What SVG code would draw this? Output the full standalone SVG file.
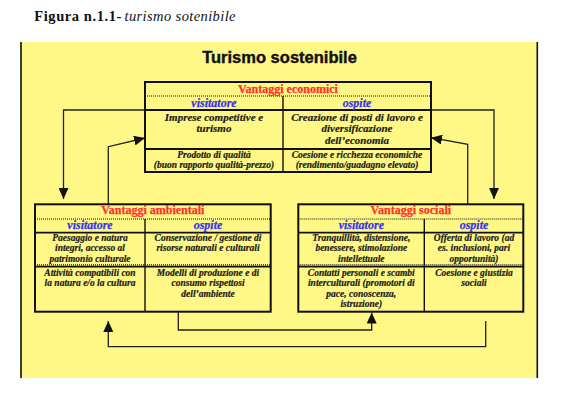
<svg xmlns="http://www.w3.org/2000/svg" width="567" height="400" viewBox="0 0 567 400">
<style>
.bg{fill:#FFF886}
.frame{stroke:#111;stroke-width:1.6}
.tb{fill:none;stroke:#111;stroke-width:2}
.ln{stroke:#111;stroke-width:1.8}
.dl{stroke:#111;stroke-width:1.2;stroke-dasharray:1 1}
.cl{stroke:#111;stroke-width:1.4}
.h{font-family:"Liberation Serif",serif;font-weight:bold;font-size:12px;fill:#FF3030;stroke:#FF3030;stroke-width:0.25;text-anchor:middle}
.v{font-family:"Liberation Serif",serif;font-weight:bold;font-style:italic;font-size:12px;fill:#3434F0;stroke:#3434F0;stroke-width:0.25;text-anchor:middle}
.c{font-family:"Liberation Serif",serif;font-weight:bold;font-style:italic;font-size:9.5px;fill:#1a1a1a;stroke:#1a1a1a;stroke-width:0.2;text-anchor:middle}
.c11{font-size:11px}
.con{fill:none;stroke:#222;stroke-width:1.3}
</style>
<defs>
<marker id="ah" viewBox="0 0 11 10" refX="11" refY="5" markerWidth="11" markerHeight="10" markerUnits="userSpaceOnUse" orient="auto">
<path d="M0,0 L11,5 L0,10 Z" fill="#111"/>
</marker>
</defs>

<text x="34.3" y="20.5" font-family="'Liberation Serif',serif" font-weight="bold" font-size="14.5" textLength="87" lengthAdjust="spacing" fill="#111">Figura n.1.1-</text>
<text x="124.5" y="20.5" font-family="'Liberation Serif',serif" font-style="italic" font-size="14.5" textLength="111" lengthAdjust="spacing" fill="#111">turismo sotenibile</text>

<rect class="bg" x="20" y="42" width="518" height="336"/>
<line class="frame" x1="21" y1="42" x2="21" y2="378"/>
<line class="frame" x1="537.3" y1="42" x2="537.3" y2="378"/>

<text x="279.5" y="62.5" font-family="'Liberation Sans',Arial,sans-serif" font-weight="bold" font-size="16.5" text-anchor="middle" fill="#111" stroke="#111" stroke-width="0.4">Turismo sostenibile</text>

<g id="connectors">
<polyline class="con" points="145,110 63.5,110 63.5,199" marker-end="url(#ah)"/>
<polyline class="con" points="108.3,204 108.3,146.7 145,138" marker-end="url(#ah)"/>
<polyline class="con" points="431,110 494,110 494,199" marker-end="url(#ah)"/>
<polyline class="con" points="467.7,204 467.7,144.3 431,137.7" marker-end="url(#ah)"/>
<polyline class="con" points="178.3,312 178.3,330 371.7,330 371.7,312.5" marker-end="url(#ah)"/>
<polyline class="con" points="485.7,321 485.7,346.7 108.3,346.7 108.3,321" marker-end="url(#ah)"/>
</g>

<g id="economici">
<rect class="tb" x="145" y="82" width="286" height="90"/>
<line class="dl" x1="145" y1="96" x2="431" y2="96"/>
<line class="ln" x1="145" y1="110" x2="431" y2="110"/>
<line class="ln" x1="145" y1="149" x2="431" y2="149"/>
<line class="cl" x1="283" y1="96" x2="283" y2="172"/>
<text class="h" x="288" y="92.5">Vantaggi economici</text>
<text class="v" x="214" y="107">visitatore</text>
<text class="v" x="357" y="107">ospite</text>
<text class="c c11" x="214" y="120.5">Imprese competitive e</text>
<text class="c c11" x="214" y="132">turismo</text>
<text class="c c11" x="357" y="120.5">Creazione di posti di lavoro e</text>
<text class="c c11" x="357" y="132">diversificazione</text>
<text class="c c11" x="357" y="144">dell’economia</text>
<text class="c" x="214" y="157.5">Prodotto di qualità</text>
<text class="c" x="214" y="167.5">(buon rapporto qualità-prezzo)</text>
<text class="c" x="357" y="157.5">Coesione e ricchezza economiche</text>
<text class="c" x="357" y="167.5">(rendimento/guadagno elevato)</text>
</g>

<g id="ambientali">
<rect class="tb" x="35" y="204.3" width="235.7" height="107.4"/>
<line class="dl" x1="35" y1="219" x2="270.7" y2="219"/>
<line class="ln" x1="35" y1="232.7" x2="270.7" y2="232.7"/>
<line class="dl" x1="35" y1="264.8" x2="270.7" y2="264.8"/>
<line class="ln" x1="35" y1="266.7" x2="270.7" y2="266.7"/>
<line class="cl" x1="145" y1="219" x2="145" y2="311.7"/>
<text class="h" x="152.8" y="214.3">Vantaggi ambientali</text>
<text class="v" x="90" y="229.3">visitatore</text>
<text class="v" x="208" y="229.3">ospite</text>
<text class="c" x="90" y="241">Paesaggio e natura</text>
<text class="c" x="90" y="251.3">integri, accesso al</text>
<text class="c" x="90" y="261.7">patrimonio culturale</text>
<text class="c" x="208" y="241">Conservazione / gestione di</text>
<text class="c" x="208" y="251.3">risorse naturali e culturali</text>
<text class="c" x="90" y="276">Attività compatibili con</text>
<text class="c" x="90" y="286.3">la natura e/o la cultura</text>
<text class="c" x="208" y="276">Modelli di produzione e di</text>
<text class="c" x="208" y="286.3">consumo rispettosi</text>
<text class="c" x="208" y="296.7">dell’ambiente</text>
</g>

<g id="sociali">
<rect class="tb" x="298.3" y="204.3" width="225" height="107.4"/>
<line class="dl" x1="298.3" y1="219" x2="523.3" y2="219"/>
<line class="ln" x1="298.3" y1="232.7" x2="523.3" y2="232.7"/>
<line class="dl" x1="298.3" y1="264.8" x2="523.3" y2="264.8"/>
<line class="ln" x1="298.3" y1="266.7" x2="523.3" y2="266.7"/>
<line class="cl" x1="424.3" y1="219" x2="424.3" y2="311.7"/>
<text class="h" x="410.8" y="214.3">Vantaggi sociali</text>
<text class="v" x="361.3" y="229.3">visitatore</text>
<text class="v" x="474" y="229.3">ospite</text>
<text class="c" x="361.3" y="241">Tranquillità, distensione,</text>
<text class="c" x="361.3" y="251.3">benessere, stimolazione</text>
<text class="c" x="361.3" y="261.7">intellettuale</text>
<text class="c" x="474" y="241">Offerta di lavoro (ad</text>
<text class="c" x="474" y="251.3">es. inclusioni, pari</text>
<text class="c" x="474" y="261.7">opportunità)</text>
<text class="c" x="361.3" y="276">Contatti personali e scambi</text>
<text class="c" x="361.3" y="286.3">interculturali (promotori di</text>
<text class="c" x="361.3" y="296.7">pace, conoscenza,</text>
<text class="c" x="361.3" y="307">istruzione)</text>
<text class="c" x="474" y="276">Coesione e giustizia</text>
<text class="c" x="474" y="286.3">sociali</text>
</g>
</svg>
